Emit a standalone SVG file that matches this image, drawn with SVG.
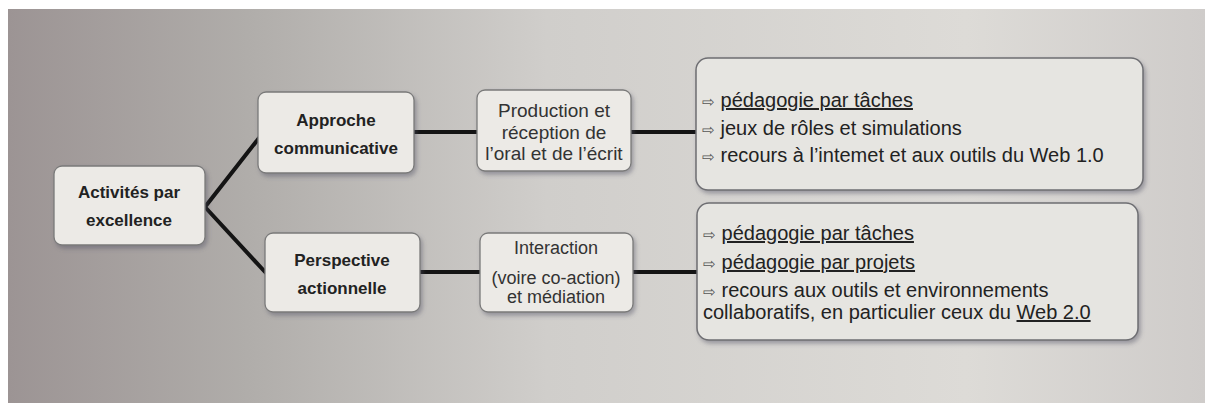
<svg xmlns="http://www.w3.org/2000/svg" width="1205" height="403" viewBox="0 0 1205 403">
<defs>
<linearGradient id="bg" x1="0" y1="0" x2="1" y2="0">
<stop offset="0" stop-color="#9c9494"/>
<stop offset="0.2" stop-color="#b0adaa"/>
<stop offset="0.45" stop-color="#d0cecb"/>
<stop offset="0.8" stop-color="#dddbd7"/>
<stop offset="1" stop-color="#cfccca"/>
</linearGradient>
<filter id="sh" x="-10%" y="-10%" width="125%" height="130%">
<feDropShadow dx="2" dy="3" stdDeviation="2" flood-color="#555566" flood-opacity="0.45"/>
</filter>
<style>
.box{fill:#eceae6;stroke:#7a7a7a;stroke-width:1.3;filter:url(#sh)}
.big{fill:#e6e5e1;stroke:#6e6e72;stroke-width:1.5;filter:url(#sh)}
.b{font-family:"Liberation Sans",Arial,sans-serif;font-weight:bold;font-size:17px;fill:#222;text-anchor:middle}
.n{font-family:"Liberation Sans",Arial,sans-serif;font-size:19px;fill:#333;text-anchor:middle}
.m{font-family:"Liberation Sans",Arial,sans-serif;font-size:18px;fill:#333;text-anchor:middle}
.l{font-family:"Liberation Sans",Arial,sans-serif;font-size:20px;fill:#222}
.a{font-size:15px;fill:#555}
.u{text-decoration:underline}
.c{fill:none;stroke:#141414;stroke-width:4;stroke-linecap:round;stroke-linejoin:miter}
</style>
</defs>
<rect width="1205" height="403" fill="#ffffff"/>
<rect x="8" y="9" width="1197" height="394" fill="url(#bg)"/>

<g id="connectors">
<polyline class="c" points="259,138 205,207 266,273"/>
<line class="c" x1="414" y1="132" x2="477" y2="132"/>
<line class="c" x1="631" y1="132" x2="697" y2="132"/>
<line class="c" x1="420" y1="272" x2="480" y2="272"/>
<line class="c" x1="633" y1="272" x2="697" y2="272"/>
</g>

<g id="root">
<rect class="box" x="54" y="166" width="151" height="79" rx="8"/>
<text class="b" x="129" y="198">Activités par</text>
<text class="b" x="129" y="226">excellence</text>
</g>

<g id="approche">
<rect class="box" x="258" y="92" width="156" height="81" rx="8"/>
<text class="b" x="336" y="126">Approche</text>
<text class="b" x="336" y="154">communicative</text>
</g>

<g id="production">
<rect class="box" x="477" y="90" width="154" height="81" rx="8"/>
<text class="n" x="554" y="117">Production et</text>
<text class="n" x="554" y="139">réception de</text>
<text class="n" x="554" y="160">l’oral et de l’écrit</text>
</g>

<g id="liste1">
<rect class="big" x="696" y="58" width="447" height="132" rx="12"/>
<text class="l" x="702" y="107"><tspan class="a">⇨</tspan> <tspan class="u">pédagogie par tâches</tspan></text>
<text class="l" x="702" y="135"><tspan class="a">⇨</tspan> jeux de rôles et simulations</text>
<text class="l" x="702" y="162"><tspan class="a">⇨</tspan> recours à l’intemet et aux outils du  Web 1.0</text>
</g>

<g id="perspective">
<rect class="box" x="265" y="233" width="155" height="79" rx="8"/>
<text class="b" x="342" y="266">Perspective</text>
<text class="b" x="342" y="294">actionnelle</text>
</g>

<g id="interaction">
<rect class="box" x="480" y="233" width="153" height="79" rx="8"/>
<text class="m" x="556" y="254">Interaction</text>
<text class="m" x="556" y="284">(voire co-action)</text>
<text class="m" x="556" y="303">et médiation</text>
</g>

<g id="liste2">
<rect class="big" x="697" y="203" width="441" height="137" rx="12"/>
<text class="l" x="703" y="240"><tspan class="a">⇨</tspan> <tspan class="u">pédagogie par tâches</tspan></text>
<text class="l" x="703" y="269"><tspan class="a">⇨</tspan> <tspan class="u">pédagogie par projets</tspan></text>
<text class="l" x="703" y="297"><tspan class="a">⇨</tspan> recours aux outils et environnements</text>
<text class="l" x="703" y="319">collaboratifs, en particulier ceux du <tspan class="u">Web 2.0</tspan></text>
</g>
</svg>
